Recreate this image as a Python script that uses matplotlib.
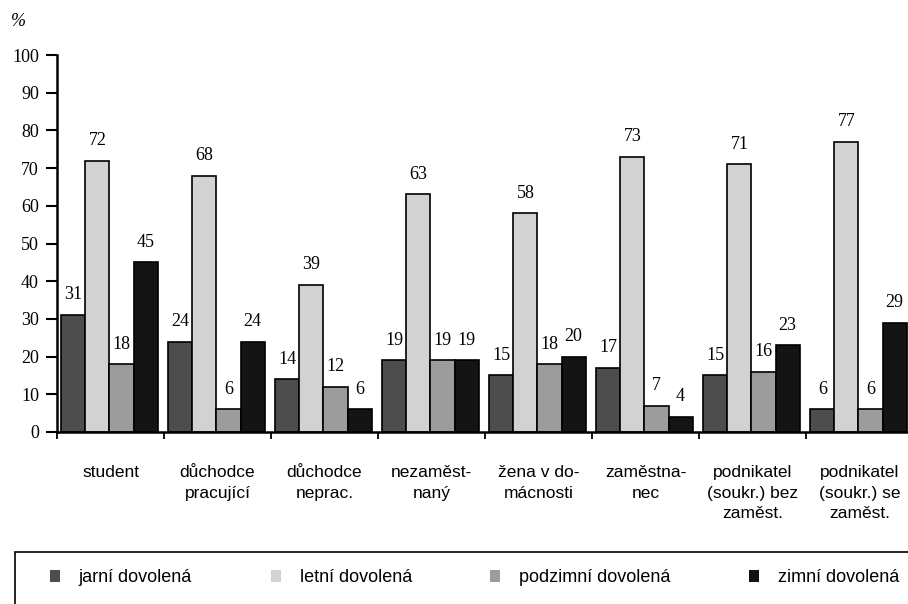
import matplotlib
matplotlib.use("Agg")
import matplotlib.pyplot as plt
import numpy as np
from matplotlib.patches import Rectangle

categories = ["student", "důchodce\npracující", "důchodce\nneprac.", "nezaměst-\nnaný",
              "žena v do-\nmácnosti", "zaměstna-\nnec", "podnikatel\n(soukr.) bez\nzaměst.",
              "podnikatel\n(soukr.) se\nzaměst."]
series_names = ["jarní dovolená", "letní dovolená", "podzimní dovolená", "zimní dovolená"]
jarni = [31, 24, 14, 19, 15, 17, 15, 6]
letni = [72, 68, 39, 63, 58, 73, 71, 77]
podzimni = [18, 6, 12, 19, 18, 7, 16, 6]
zimni = [45, 24, 6, 19, 20, 4, 23, 29]
yticks = list(range(0, 101, 10))

series = [jarni, letni, podzimni, zimni]
colors = ["#4d4d4d", "#d2d2d2", "#9c9c9c", "#141414"]

W, H = 908, 604
fig = plt.figure(figsize=(W / 100, H / 100), dpi=100)
ax_left, ax_right = 57, 913
ax_top, ax_bottom = 55, 432
ax = fig.add_axes([ax_left / W, 1 - ax_bottom / H, (ax_right - ax_left) / W, (ax_bottom - ax_top) / H])

serif = "Liberation Serif"
sans = "Liberation Sans"

bw = 0.225
start = 0.04
x = np.arange(len(categories))
handles = []
for j, (vals, col) in enumerate(zip(series, colors)):
    pos = x + start + bw * (j + 0.5)
    bars = ax.bar(pos, vals, width=bw, color=col, edgecolor="black", linewidth=1.2,
                  label=series_names[j], clip_on=False)
    handles.append(bars)
    for p, v in zip(pos, vals):
        ax.annotate(str(v), (p, v), xytext=(0, 14.5), textcoords="offset points",
                    ha="center", va="center", fontsize=13, family=serif, color="black")

ax.set_xlim(0, len(categories))
ax.set_ylim(0, 100)
for s in ["top", "right"]:
    ax.spines[s].set_visible(False)
ax.spines["left"].set_linewidth(1.8)
ax.spines["bottom"].set_linewidth(1.8)

ax.set_yticks(yticks)
ax.set_yticklabels([str(t) for t in yticks], family=serif, fontsize=13)
ax.tick_params(axis="y", direction="out", length=8, width=1.5, pad=5)

ax.set_xticks(np.arange(len(categories) + 1))
ax.set_xticklabels([])
ax.tick_params(axis="x", which="major", direction="out", length=5, width=1.3)
ax.set_xticks(x + 0.5, minor=True)
ax.set_xticklabels(categories, minor=True, family=sans, fontsize=12.5)
ax.tick_params(axis="x", which="minor", length=0, pad=24)
for lbl in ax.get_xticklabels(minor=True):
    lbl.set_linespacing(1.45)
    lbl.set_verticalalignment("top")

fig.text(11 / W, 1 - 21 / H, "%", family=serif, style="italic", fontsize=13, va="center", ha="left")

# legend frame
fig.add_artist(Rectangle((15 / W, -0.2), 1.2, 0.2 + (H - 552) / H, transform=fig.transFigure,
                         fill=False, edgecolor="black", linewidth=1.2))
leg = fig.legend(handles, series_names, loc="center left", bbox_to_anchor=(50 / W, 1 - 578 / H),
                 ncol=4, frameon=False, prop={"family": sans, "size": 13},
                 handlelength=0.55, handleheight=0.6, handletextpad=1.05, columnspacing=4.35,
                 borderpad=0, borderaxespad=0)
for h in leg.legend_handles:
    h.set_linewidth(0)

fig.savefig("out.png", dpi=100)
